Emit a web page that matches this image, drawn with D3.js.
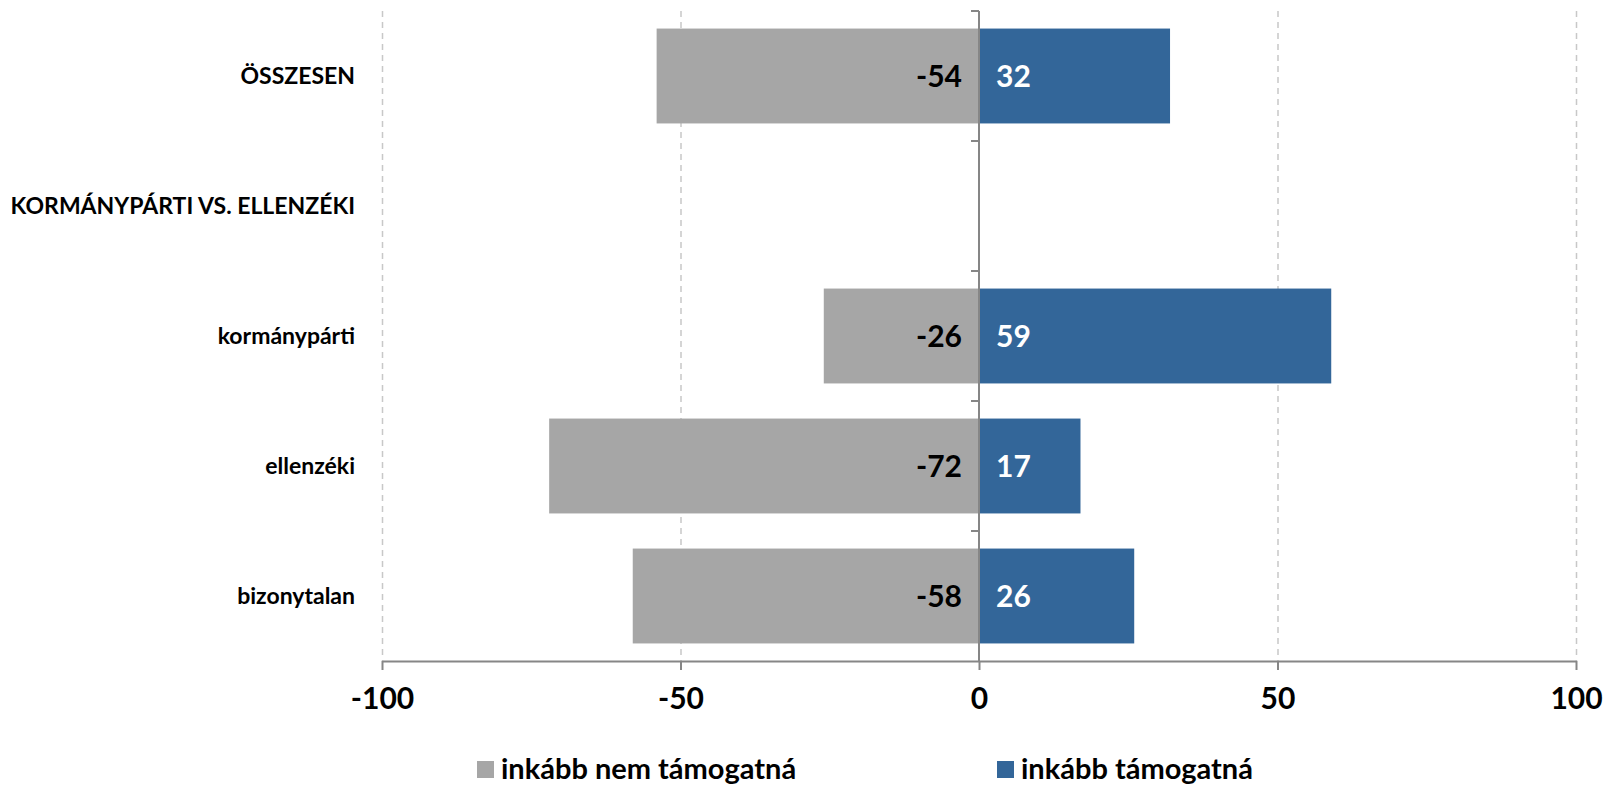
<!DOCTYPE html>
<html>
<head>
<meta charset="utf-8">
<script src="https://cdn.jsdelivr.net/npm/d3@7"></script>
<style>
  html, body { margin: 0; padding: 0; background: #fff; }
  svg { display: block; font-family: Lato, "Open Sans", sans-serif; font-weight: bold; }
</style>
</head>
<body>
<div id="chart"></div>
<script>
// Chart data
const categories = ['ÖSSZESEN', 'KORMÁNYPÁRTI VS. ELLENZÉKI', 'kormánypárti', 'ellenzéki', 'bizonytalan'];
const notSupport = [-54, null, -26, -72, -58];
const support = [32, null, 59, 17, 26];
const seriesNames = ['inkább nem támogatná', 'inkább támogatná'];
const xTicks = [-100, -50, 0, 50, 100];

const width = 1603;
const height = 785;
const colors = ['#a6a6a6', '#336699'];

const svg = d3.select('#chart')
    .append('svg')
    .attr('width', width)
    .attr('height', height);

// Scales
const x = d3.scaleLinear().domain([-100, 100]).range([382, 1576]);
const y = d3.scaleBand().domain(categories).range([11, 661]).paddingInner(0.27).paddingOuter(0.135);
const band = d3.scaleBand().domain(categories).range([11, 661]);

// Dashed grid lines
svg.append('g')
    .selectAll('line')
    .data(xTicks.filter(d => d !== 0))
    .join('line')
    .attr('x1', d => x(d) + 0.5)
    .attr('x2', d => x(d) + 0.5)
    .attr('y1', 11)
    .attr('y2', 661)
    .attr('stroke', '#c8c8c8')
    .attr('stroke-width', 1.5)
    .attr('stroke-dasharray', '6,5');

// Bars
const rows = categories.map((c, i) => ({ cat: c, neg: notSupport[i], pos: support[i] }));

svg.append('g')
    .selectAll('rect')
    .data(rows.filter(d => d.neg !== null))
    .join('rect')
    .attr('x', d => x(d.neg))
    .attr('y', d => y(d.cat))
    .attr('width', d => x(0) - x(d.neg))
    .attr('height', y.bandwidth())
    .attr('fill', colors[0]);

svg.append('g')
    .selectAll('rect')
    .data(rows.filter(d => d.pos !== null))
    .join('rect')
    .attr('x', x(0))
    .attr('y', d => y(d.cat))
    .attr('width', d => x(d.pos) - x(0))
    .attr('height', y.bandwidth())
    .attr('fill', colors[1]);

// Bar labels
svg.append('g')
    .selectAll('text')
    .data(rows.filter(d => d.neg !== null))
    .join('text')
    .attr('x', x(0) - 17)
    .attr('y', d => y(d.cat) + y.bandwidth() / 2)
    .attr('dy', '0.36em')
    .attr('text-anchor', 'end')
    .attr('font-size', 30)
    .attr('fill', '#000')
    .text(d => d.neg);

svg.append('g')
    .selectAll('text')
    .data(rows.filter(d => d.pos !== null))
    .join('text')
    .attr('x', x(0) + 17)
    .attr('y', d => y(d.cat) + y.bandwidth() / 2)
    .attr('dy', '0.36em')
    .attr('text-anchor', 'start')
    .attr('font-size', 30)
    .attr('fill', '#fff')
    .text(d => d.pos);

// Vertical zero axis with category ticks
const axisColor = '#868686';
svg.append('line')
    .attr('x1', x(0)).attr('x2', x(0))
    .attr('y1', 11).attr('y2', 661)
    .attr('stroke', axisColor).attr('stroke-width', 2);

svg.append('g')
    .selectAll('line')
    .data(categories)
    .join('line')
    .attr('x1', x(0) - 8).attr('x2', x(0))
    .attr('y1', d => band(d)).attr('y2', d => band(d))
    .attr('stroke', axisColor).attr('stroke-width', 2);

// Category labels
svg.append('g')
    .selectAll('text')
    .data(categories)
    .join('text')
    .attr('x', 355)
    .attr('y', d => band(d) + band.bandwidth() / 2)
    .attr('dy', '0.36em')
    .attr('text-anchor', 'end')
    .attr('font-size', 23)
    .attr('fill', '#000')
    .text(d => d);

// Bottom value axis
const xAxis = svg.append('g')
    .attr('transform', 'translate(0,661)')
    .call(d3.axisBottom(x).tickValues(xTicks).tickFormat(d => String(d))
        .tickSize(9).tickPadding(18).tickSizeOuter(0));

xAxis.select('.domain').attr('stroke', axisColor).attr('stroke-width', 2);
xAxis.selectAll('.tick line').attr('stroke', axisColor).attr('stroke-width', 2);
xAxis.selectAll('.tick text')
    .attr('font-family', 'Lato, "Open Sans", sans-serif')
    .attr('font-weight', 'bold')
    .attr('font-size', 30)
    .attr('fill', '#000');

// Legend
const legendX = [477, 997];
const legend = svg.append('g')
    .selectAll('g')
    .data(seriesNames)
    .join('g')
    .attr('transform', (d, i) => `translate(${legendX[i]},761)`);

legend.append('rect')
    .attr('width', 17)
    .attr('height', 17)
    .attr('fill', (d, i) => colors[i]);

legend.append('text')
    .attr('x', 24)
    .attr('y', 8)
    .attr('dy', '0.34em')
    .attr('font-size', 29)
    .attr('fill', '#000')
    .text(d => d);
</script>
</body>
</html>
